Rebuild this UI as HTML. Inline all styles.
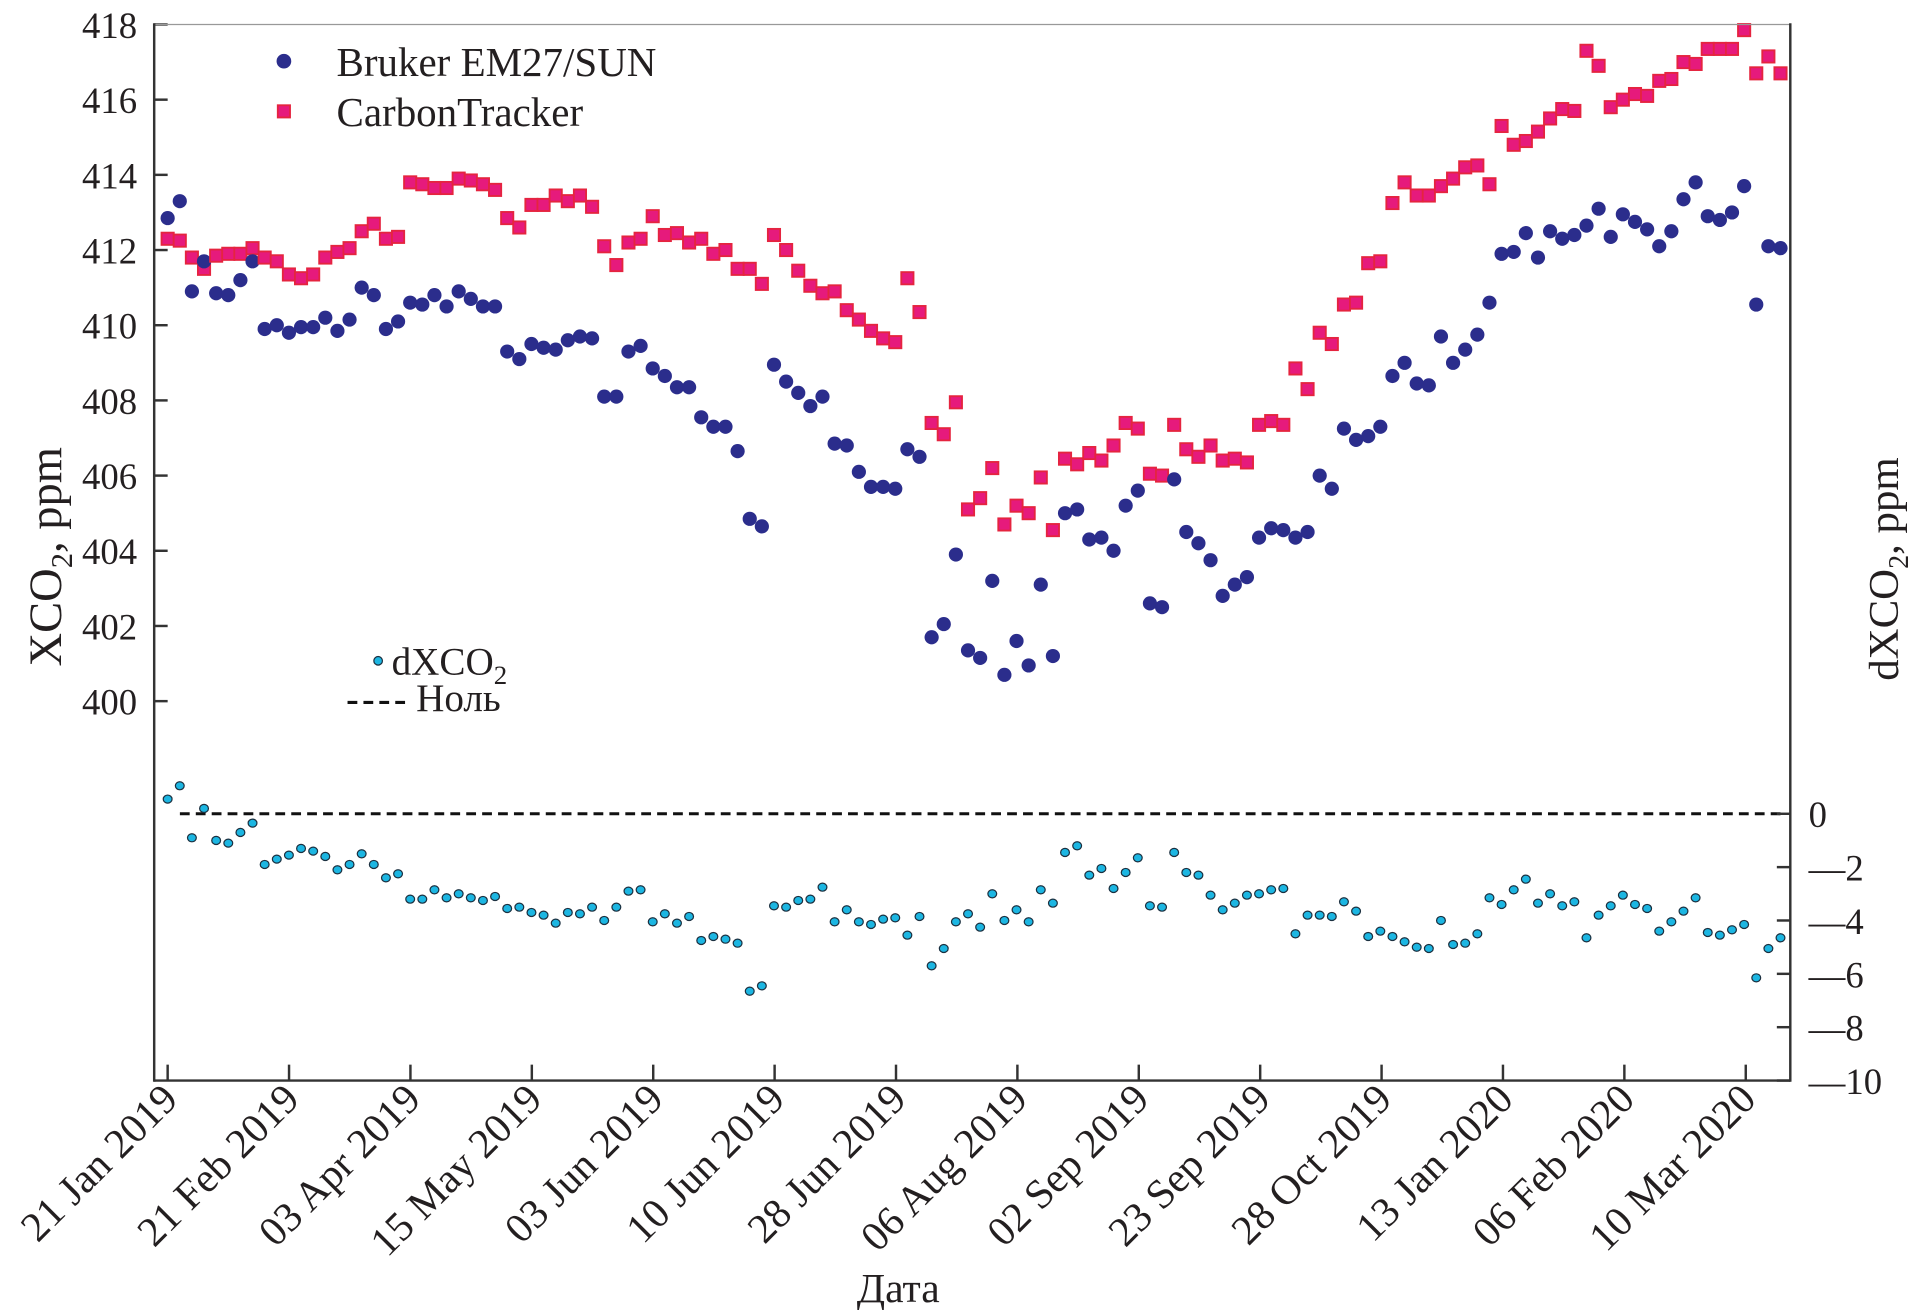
<!DOCTYPE html>
<html><head><meta charset="utf-8">
<style>
html,body{margin:0;padding:0;background:#fff;}
svg{display:block;}
text{font-family:"Liberation Serif",serif;fill:#231f20;}
</style></head>
<body>
<svg id="s" width="1909" height="1310" viewBox="0 0 1560 1070.5" xmlns="http://www.w3.org/2000/svg">
<rect width="1560" height="1071" fill="#fff"/>
<g id="g"></g>
<!-- axes -->
<line x1="126" y1="20" x2="1463" y2="20" stroke="#999" stroke-width="1"/>
<line x1="126" y1="19" x2="126" y2="884" stroke="#333" stroke-width="2"/>
<line x1="1463" y1="19" x2="1463" y2="884" stroke="#333" stroke-width="2"/>
<line x1="126" y1="883" x2="1463" y2="883" stroke="#333" stroke-width="2"/>
<g font-size="30" text-anchor="end" id="yl"></g>
<g font-size="30" id="yr"></g>
<g font-size="34" id="xl"></g>
<text x="0" y="0" font-size="38" transform="translate(50,455) rotate(-90)" text-anchor="middle">XCO<tspan font-size="25" dy="9">2</tspan><tspan dy="-9">, ppm</tspan></text>
<text x="0" y="0" font-size="35" transform="translate(1551,465) rotate(-90)" text-anchor="middle">dXCO<tspan font-size="23" dy="8">2</tspan><tspan dy="-8">, ppm</tspan></text>
<text x="734" y="1064" font-size="34" text-anchor="middle">Дата</text>
<!-- legend -->
<circle cx="232" cy="50" r="6" fill="#2b2d8c"/>
<text x="275" y="62" font-size="33.5">Bruker EM27/SUN</text>
<rect x="227" y="86" width="10" height="10" fill="#e61a7c" stroke="#e5243f" stroke-width="1.5"/>
<text x="275" y="103" font-size="33.5">CarbonTracker</text>
<circle cx="309" cy="540" r="3.5" fill="#1cb6e2" stroke="#1b3040" stroke-width="1"/>
<text x="320" y="551" font-size="32">dXCO<tspan font-size="22" dy="8">2</tspan></text>
<line x1="284" y1="574" x2="332" y2="574" stroke="#111" stroke-width="2.5" stroke-dasharray="8,5"/>
<text x="340" y="581" font-size="32">Ноль</text>
</svg>
<script>
var B=[412.85,413.3,410.9,411.7,410.85,410.8,411.2,411.7,409.9,410.0,409.8,409.95,409.95,410.2,409.85,410.15,411.0,410.8,409.9,410.1,410.6,410.55,410.8,410.5,410.9,410.7,410.5,410.5,409.3,409.1,409.5,409.4,409.35,409.6,409.7,409.65,408.1,408.1,409.3,409.45,408.85,408.65,408.35,408.35,407.55,407.3,407.3,406.65,404.85,404.65,408.95,408.5,408.2,407.85,408.1,406.85,406.8,406.1,405.7,405.7,405.65,406.7,406.5,401.7,402.05,403.9,401.35,401.15,403.2,400.7,401.6,400.95,403.1,401.2,405.0,405.1,404.3,404.35,404.0,405.2,405.6,402.6,402.5,405.9,404.5,404.2,403.75,402.8,403.1,403.3,404.35,404.6,404.55,404.35,404.5,406.0,405.65,407.25,406.95,407.05,407.3,408.65,409.0,408.45,408.4,409.7,409.0,409.35,409.75,410.6,411.9,411.95,412.45,411.8,412.5,412.3,412.4,412.65,413.1,412.35,412.95,412.75,412.55,412.1,412.5,413.35,413.8,412.9,412.8,413.0,413.7,410.55,412.1,412.05];
var C=[412.3,412.25,411.8,411.5,411.85,411.9,411.9,412.05,411.8,411.7,411.35,411.25,411.35,411.8,411.95,412.05,412.5,412.7,412.3,412.35,413.8,413.75,413.65,413.65,413.9,413.85,413.75,413.6,412.85,412.6,413.2,413.2,413.45,413.3,413.45,413.15,412.1,411.6,412.2,412.3,412.9,412.4,412.45,412.2,412.3,411.9,412.0,411.5,411.5,411.1,412.4,412.0,411.45,411.05,410.85,410.9,410.4,410.15,409.85,409.65,409.55,411.25,410.35,407.4,407.1,407.95,405.1,405.4,406.2,404.7,405.2,405.0,405.95,404.55,406.45,406.3,406.6,406.4,406.8,407.4,407.25,406.05,406.0,407.35,406.7,406.5,406.8,406.4,406.45,406.35,407.35,407.45,407.35,408.85,408.3,409.8,409.5,410.55,410.6,411.65,411.7,413.25,413.8,413.45,413.45,413.7,413.9,414.2,414.25,413.75,415.3,414.8,414.9,415.15,415.5,415.75,415.7,417.3,416.9,415.8,416.0,416.15,416.1,416.5,416.55,417.0,416.95,417.35,417.35,417.35,417.85,416.7,417.15,416.7];
var NS="http://www.w3.org/2000/svg";
function el(p,t,a,txt){var e=document.createElementNS(NS,t);for(var k in a)e.setAttribute(k,a[k]);if(txt!=null)e.textContent=txt;p.appendChild(e);return e;}
var g=document.getElementById('g');
function X(i){return 137+i*(1455-137)/(B.length-1);}
function Y(v){return 20+(418-v)*30.72;}
function D(v){return 665-v*21.8;}
el(g,'line',{x1:147,y1:665,x2:1458,y2:665,stroke:'#111','stroke-width':2.5,'stroke-dasharray':'8,5'});
var n=Math.min(B.length,C.length);
for(var i=0;i<n;i++){
 var x=X(i);
 el(g,'rect',{x:x-5,y:Y(C[i])-5,width:10,height:10,fill:'#e61a7c',stroke:'#e5243f','stroke-width':1.5});
 el(g,'circle',{cx:x,cy:Y(B[i]),r:5.8,fill:'#2b2d8c'});
 el(g,'ellipse',{cx:x,cy:D(B[i]-C[i]),rx:3.6,ry:3.3,fill:'#1cb6e2',stroke:'#1b3040','stroke-width':1});
}
var yl=document.getElementById('yl');
for(var v=400;v<=418;v+=2){var y=Y(v);el(g,'line',{x1:126,y1:y,x2:137,y2:y,stroke:'#333','stroke-width':2});el(yl,'text',{x:112,y:y+11},String(v));}
var yr=document.getElementById('yr');
for(var d=0;d>=-10;d-=2){var y=D(d);el(g,'line',{x1:1452,y1:y,x2:1463,y2:y,stroke:'#333','stroke-width':2});el(yr,'text',{x:1478,y:y+11},d==0?'0':'\u2014'+(-d));}
var labs=['21 Jan 2019','21 Feb 2019','03 Apr 2019','15 May 2019','03 Jun 2019','10 Jun 2019','28 Jun 2019','06 Aug 2019','02 Sep 2019','23 Sep 2019','28 Oct 2019','13 Jan 2020','06 Feb 2020','10 Mar 2020'];
var xl=document.getElementById('xl');
for(var j=0;j<labs.length;j++){var x=137+j*99.2;el(g,'line',{x1:x,y1:870,x2:x,y2:883,stroke:'#333','stroke-width':2});
 el(xl,'text',{x:0,y:0,'text-anchor':'end',transform:'translate('+(x+10)+',900) rotate(-45)'},labs[j]);}
</script>
</body></html>
